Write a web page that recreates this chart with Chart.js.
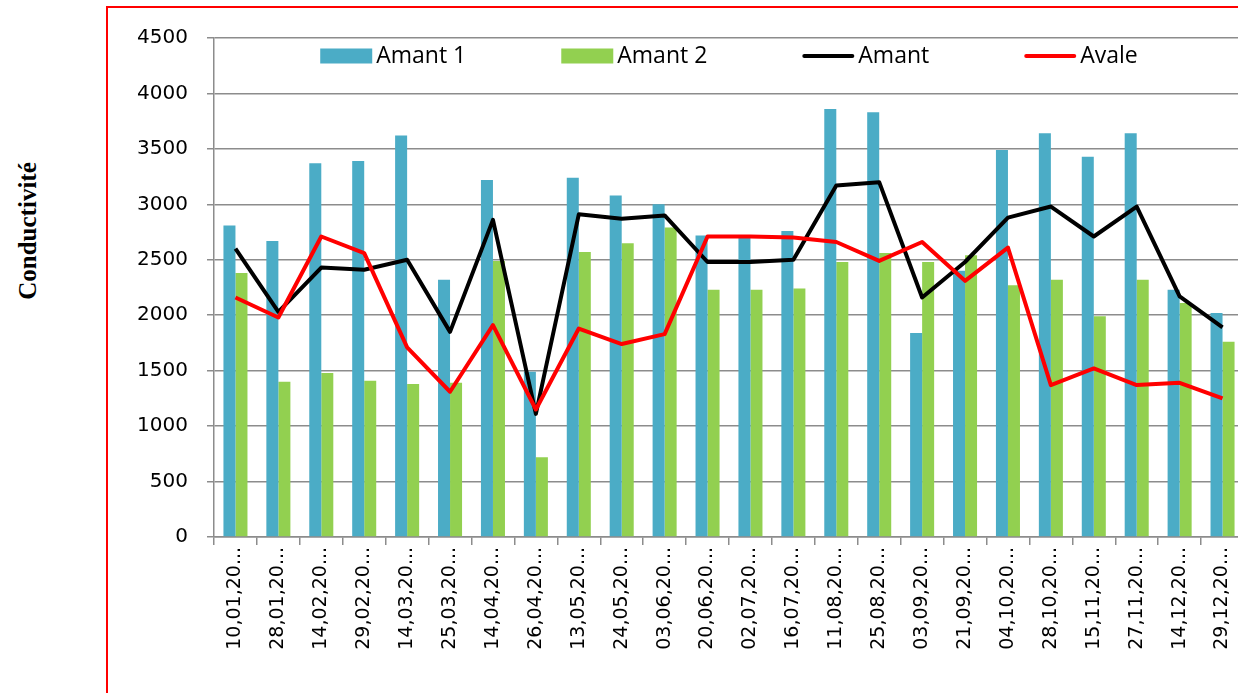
<!DOCTYPE html>
<html>
<head>
<meta charset="utf-8">
<script src="https://cdn.jsdelivr.net/npm/chart.js@4.4.1/dist/chart.umd.min.js"></script>
<style>
  html, body { margin: 0; padding: 0; background: #fff; overflow: hidden; }
  #frame { position: absolute; left: 106px; top: 6px; width: 1200px; height: 800px; border: 2px solid #ff0000; }
  #ytitle { position: absolute; left: 28px; top: 231px; transform: translate(-50%, -50%) rotate(-90deg);
            font: bold 25px "Liberation Serif", serif; white-space: nowrap; color: #000; }
  canvas { position: absolute; left: 0; top: 0; }
</style>
</head>
<body>
<div id="frame"></div>
<div id="ytitle">Conductivité</div>
<canvas id="myChart" width="1250" height="693"></canvas>
<script>
// dates (tronquées comme sur le graphique d'origine)
const dates = ['10,01,20...', '28,01,20...', '14,02,20...', '29,02,20...', '14,03,20...', '25,03,20...',
               '14,04,20...', '26,04,20...', '13,05,20...', '24,05,20...', '03,06,20...', '20,06,20...',
               '02,07,20...', '16,07,20...', '11,08,20...', '25,08,20...', '03,09,20...', '21,09,20...',
               '04,10,20...', '28,10,20...', '15,11,20...', '27,11,20...', '14,12,20...', '29,12,20...'];

const amant1 = [2810, 2670, 3370, 3390, 3620, 2320, 3220, 1490, 3240, 3080, 3000, 2720,
                2700, 2760, 3860, 3830, 1840, 2400, 3490, 3640, 3430, 3640, 2230, 2020];
const amant2 = [2380, 1400, 1480, 1410, 1380, 1390, 2490, 720, 2570, 2650, 2790, 2230,
                2230, 2240, 2480, 2560, 2480, 2540, 2270, 2320, 1990, 2320, 2110, 1760];
const amant = [2600, 2030, 2430, 2410, 2500, 1850, 2860, 1110, 2910, 2870, 2900, 2480,
               2480, 2500, 3170, 3200, 2160, 2480, 2880, 2980, 2710, 2980, 2170, 1890];
const avale = [2160, 1980, 2710, 2560, 1710, 1310, 1910, 1150, 1880, 1740, 1830, 2710,
               2710, 2700, 2660, 2490, 2660, 2310, 2610, 1370, 1520, 1370, 1390, 1250];

const yMax = 4500;
const yStep = 500;

// légende dessinée à l'intérieur de la zone du graphique
const legendInside = {
    id: 'legendInside',
    afterDraw(chart) {
        const ctx = chart.ctx;
        const area = chart.chartArea;
        const gap = 95, boxW = 52, boxH = 15, textGap = 4;
        ctx.save();
        ctx.font = '23px "Open Sans"';
        const items = chart.data.datasets.map(ds => ({
            label: ds.label,
            isLine: ds.type === 'line',
            color: ds.type === 'line' ? ds.borderColor : ds.backgroundColor,
            w: boxW + textGap + ctx.measureText(ds.label).width
        }));
        const total = items.reduce((s, it) => s + it.w, 0) + gap * (items.length - 1);
        let x = (area.left + area.right) / 2 - total / 2;
        const y = 56;
        items.forEach(it => {
            if (it.isLine) {
                ctx.strokeStyle = it.color;
                ctx.lineWidth = 4;
                ctx.lineCap = 'round';
                ctx.beginPath();
                ctx.moveTo(x + 2, y);
                ctx.lineTo(x + boxW - 2, y);
                ctx.stroke();
            } else {
                ctx.fillStyle = it.color;
                ctx.fillRect(x, y - boxH / 2, boxW, boxH);
            }
            ctx.fillStyle = '#000';
            ctx.textAlign = 'left';
            ctx.textBaseline = 'middle';
            ctx.fillText(it.label, x + boxW + textGap, y);
            x += it.w + gap;
        });
        ctx.restore();
    }
};

const gridColor = '#8c8c8c';

const ctx = document.getElementById('myChart').getContext('2d');
new Chart(ctx, {
    type: 'bar',
    data: {
        labels: dates,
        datasets: [
            { label: 'Amant 1', data: amant1, backgroundColor: '#4BACC6', order: 2 },
            { label: 'Amant 2', data: amant2, backgroundColor: '#92D050', order: 3 },
            { type: 'line', label: 'Amant', data: amant, borderColor: '#000000', backgroundColor: '#000000',
              borderWidth: 4, pointRadius: 0, tension: 0, fill: false, borderJoinStyle: 'round', order: 1 },
            { type: 'line', label: 'Avale', data: avale, borderColor: '#ff0000', backgroundColor: '#ff0000',
              borderWidth: 4, pointRadius: 0, tension: 0, fill: false, borderJoinStyle: 'round', order: 0 }
        ]
    },
    options: {
        responsive: false,
        animation: false,
        layout: { padding: { top: 38, right: 6, left: 0, bottom: 0 } },
        datasets: { bar: { categoryPercentage: 0.56, barPercentage: 1 } },
        plugins: {
            legend: { display: false },
            tooltip: { enabled: false }
        },
        scales: {
            x: {
                grid: { drawOnChartArea: false, drawTicks: true, tickLength: 8, color: gridColor, lineWidth: 1.5, offset: true },
                border: { color: gridColor, width: 1.5 },
                ticks: { minRotation: 90, maxRotation: 90, autoSkip: false, padding: 2, color: '#000',
                         font: { family: 'DejaVu Sans', size: 19 } },
                afterFit(scale) { scale.height = 156; }
            },
            y: {
                min: 0,
                max: yMax,
                grid: { color: gridColor, lineWidth: 1.5, tickLength: 7 },
                border: { color: gridColor, width: 1.5 },
                ticks: { stepSize: yStep, padding: 19, color: '#000',
                         font: { family: 'DejaVu Sans', size: 20 },
                         callback: v => String(v) },
                afterFit(scale) { scale.width = 214; }
            }
        }
    },
    plugins: [legendInside]
});
</script>
</body>
</html>
